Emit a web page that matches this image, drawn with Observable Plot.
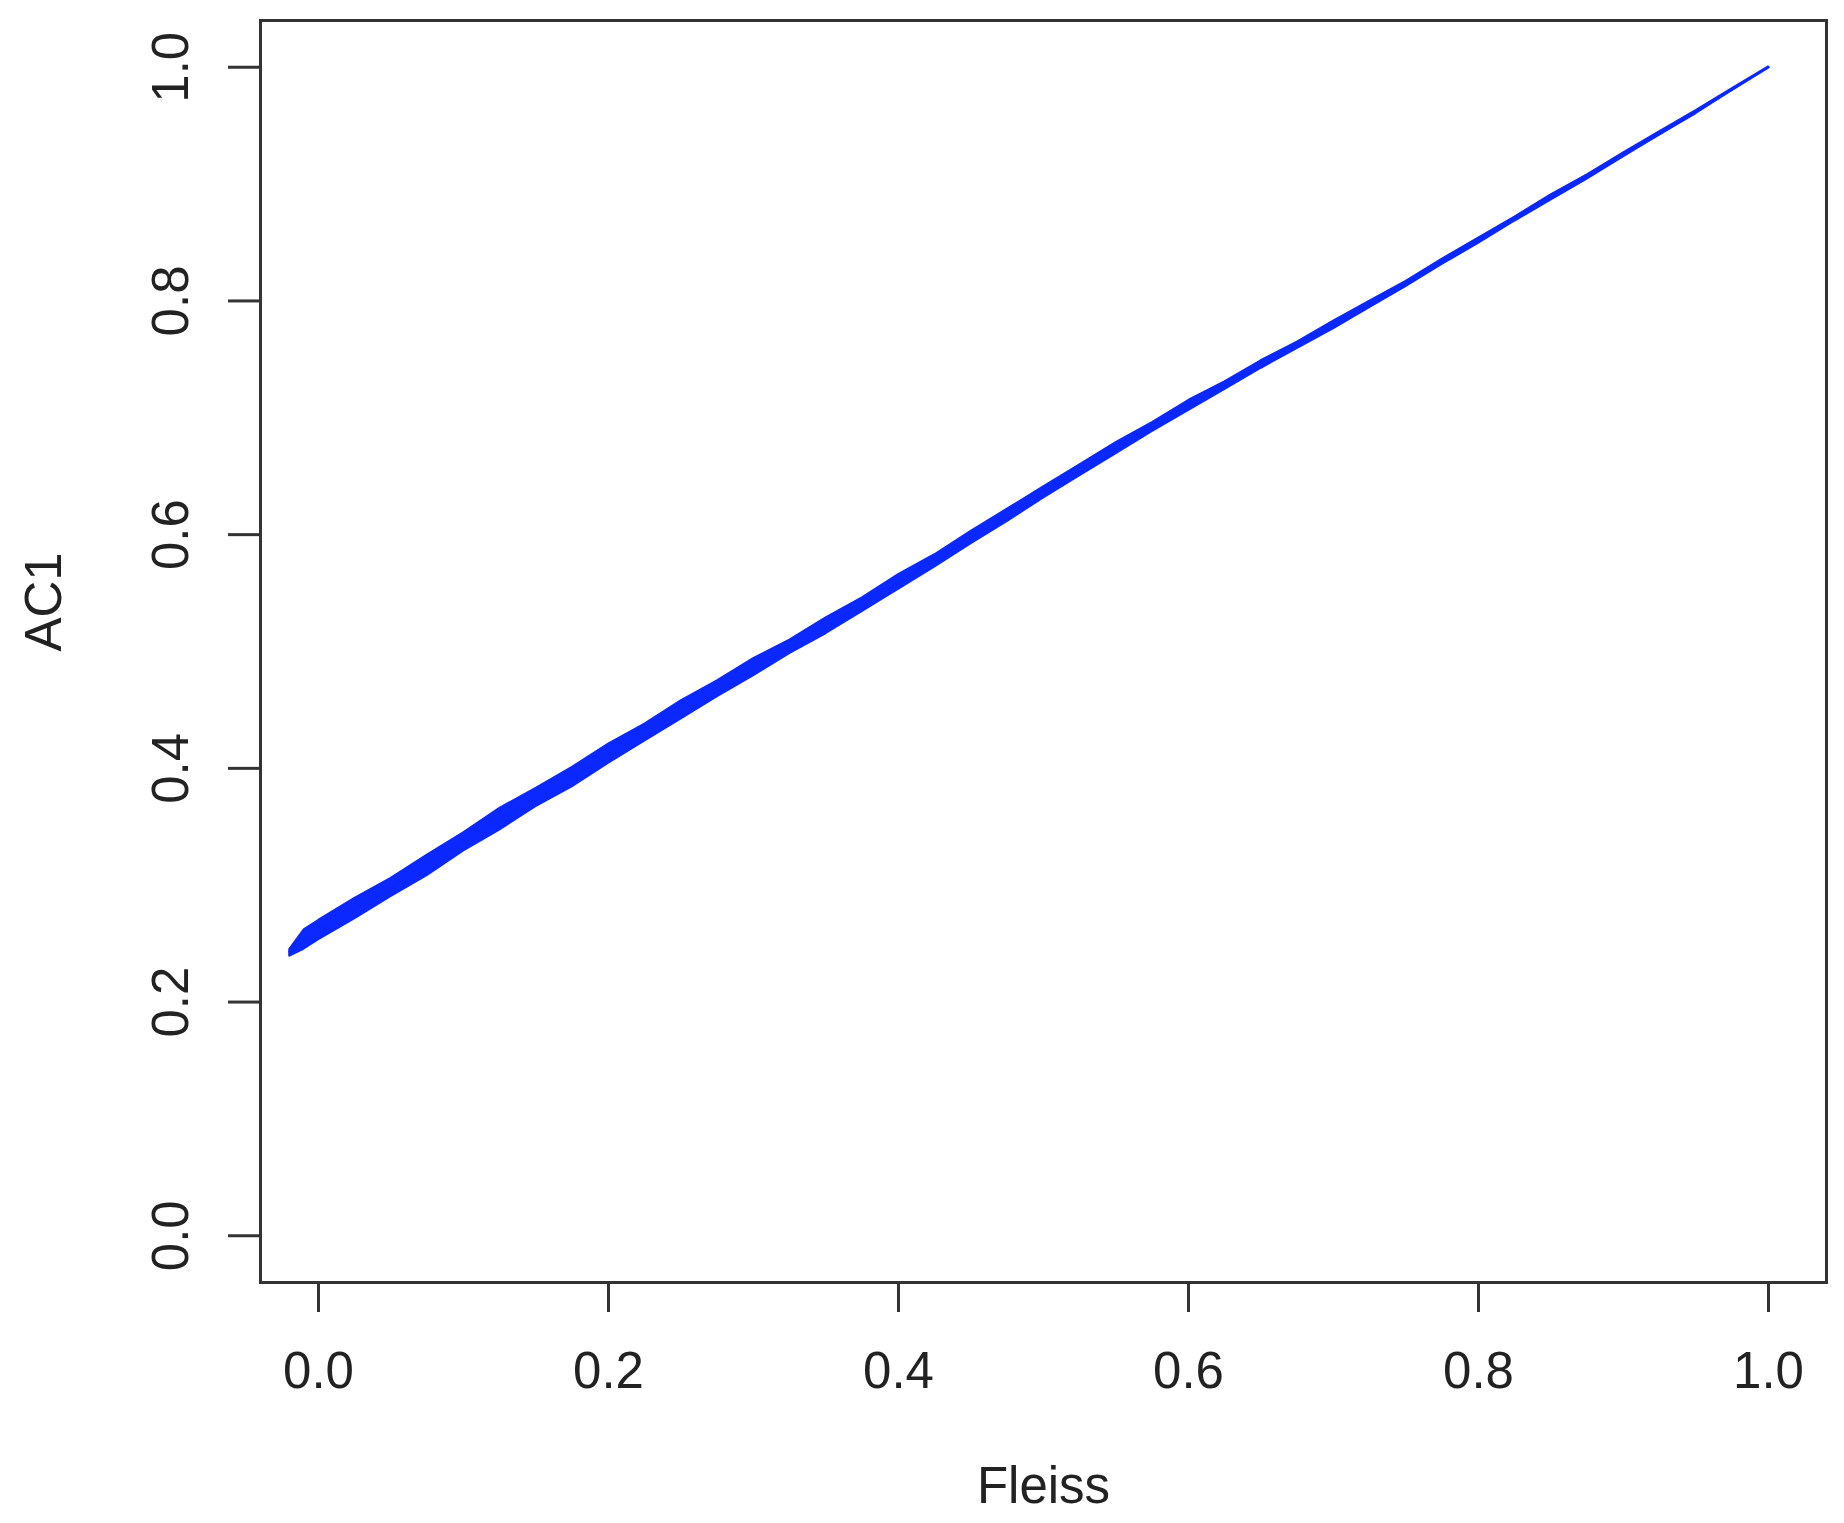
<!DOCTYPE html>
<html>
<head>
<meta charset="utf-8">
<script src="https://cdn.jsdelivr.net/npm/d3@7"></script>
<script src="https://cdn.jsdelivr.net/npm/@observablehq/plot@0.6"></script>
<style>
  html, body { margin: 0; padding: 0; background: #ffffff; }
  #chart svg { display: block; }
</style>
</head>
<body>
<div id="chart"></div>
<script>
// Fleiss (x) values along the curve
const fleiss = [-0.02, -0.01, 0.000, 0.025, 0.050, 0.075, 0.100, 0.125, 0.150, 0.175, 0.200, 0.225, 0.250, 0.275, 0.300, 0.325, 0.350, 0.375, 0.400, 0.425, 0.450, 0.475, 0.500, 0.525, 0.550, 0.575, 0.600, 0.625, 0.650, 0.675, 0.700, 0.725, 0.750, 0.775, 0.800, 0.825, 0.850, 0.875, 0.900, 0.925, 0.950, 0.975, 1.000];
// AC1 central trace
const ac1 = [0.243, 0.253, 0.262, 0.280, 0.298, 0.318, 0.337, 0.356, 0.375, 0.393, 0.412, 0.431, 0.450, 0.468, 0.486, 0.504, 0.522, 0.540, 0.559, 0.578, 0.598, 0.617, 0.636, 0.655, 0.674, 0.692, 0.710, 0.728, 0.745, 0.762, 0.779, 0.797, 0.815, 0.833, 0.852, 0.870, 0.888, 0.906, 0.925, 0.943, 0.962, 0.981, 1.000];
// spread of the overlapping AC1 traces (lower / upper envelope)
const ac1Low = [0.239, 0.245, 0.253, 0.271, 0.290, 0.308, 0.329, 0.347, 0.367, 0.384, 0.404, 0.423, 0.442, 0.461, 0.479, 0.498, 0.515, 0.534, 0.553, 0.572, 0.592, 0.611, 0.631, 0.650, 0.669, 0.688, 0.706, 0.724, 0.742, 0.759, 0.776, 0.794, 0.812, 0.831, 0.849, 0.868, 0.886, 0.904, 0.923, 0.942, 0.960, 0.980, 0.9995];
const ac1High = [0.245, 0.262, 0.270, 0.289, 0.306, 0.326, 0.345, 0.366, 0.383, 0.401, 0.421, 0.438, 0.458, 0.475, 0.494, 0.510, 0.529, 0.546, 0.566, 0.583, 0.603, 0.622, 0.641, 0.660, 0.679, 0.696, 0.715, 0.731, 0.749, 0.765, 0.783, 0.800, 0.817, 0.836, 0.854, 0.872, 0.891, 0.908, 0.927, 0.945, 0.963, 0.982, 1.0005];
// tick labels
const xTicks = [0.0, 0.2, 0.4, 0.6, 0.8, 1.0];
const yTicks = [0.0, 0.2, 0.4, 0.6, 0.8, 1.0];

const rows = fleiss.map((f, i) => ({fleiss: f, ac1: ac1[i], lo: ac1Low[i], hi: ac1High[i]}));
const blue = "#0a28ff";
const font = "Liberation Sans, Arial, Helvetica, sans-serif";

const chart = Plot.plot({
  width: 1844,
  height: 1523,
  marginLeft: 260,
  marginRight: 18,
  marginTop: 20,
  marginBottom: 241,
  style: {fontFamily: font, background: "#ffffff", color: "#222"},
  x: {domain: [-0.04, 1.04]},
  y: {domain: [-0.04, 1.04]},
  marks: [
    Plot.areaY(rows, {x: "fleiss", y1: "lo", y2: "hi", fill: blue, stroke: blue, strokeWidth: 1.5}),
    Plot.lineY(rows, {x: "fleiss", y: "ac1", stroke: blue, strokeWidth: 2.5}),
    Plot.frame({stroke: "#333", strokeWidth: 3}),
    Plot.axisX({ticks: xTicks, tickSize: 30, tickPadding: 39, fontSize: 51, tickFormat: d3.format(".1f"), label: null, stroke: "#333", strokeWidth: 3, fill: "#222"}),
    Plot.axisY({ticks: yTicks, tickSize: 32, tickPadding: 41, fontSize: 51, tickRotate: -90, tickFormat: d3.format(".1f"), label: null, stroke: "#333", strokeWidth: 3, fill: "#222"}),
    Plot.text(["Fleiss"], {frameAnchor: "bottom", dy: 204, fontSize: 51, lineAnchor: "middle", fill: "#222"}),
    Plot.text(["AC1"], {frameAnchor: "left", dx: -216, rotate: -90, fontSize: 51, lineAnchor: "middle", fill: "#222"})
  ]
});
document.getElementById("chart").appendChild(chart);
</script>
</body>
</html>
